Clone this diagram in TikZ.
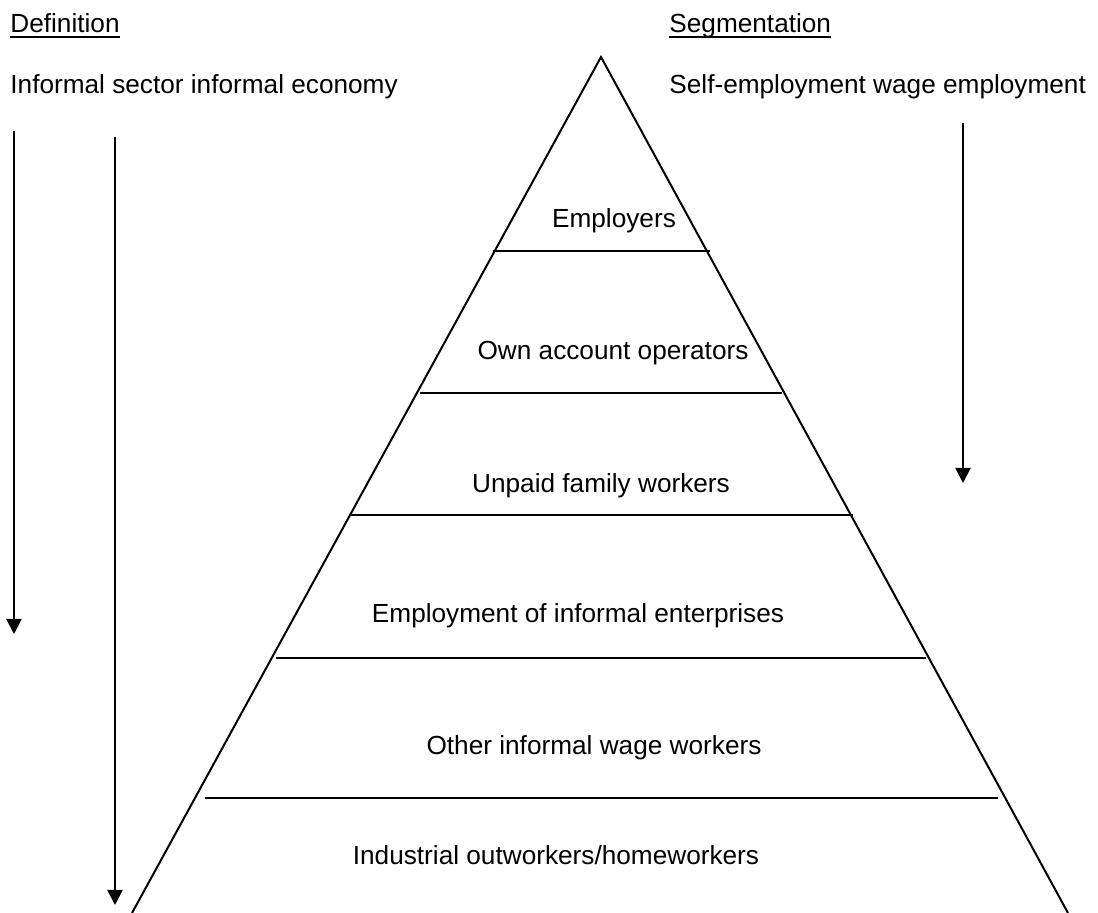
\documentclass[tikz,border=0pt]{standalone}
\usepackage{fontspec}
\setmainfont{Liberation Sans}
\usetikzlibrary{arrows.meta}
\tikzstyle{titre}=[inner sep=0pt,anchor=base west,font=\fontsize{13.1}{15.7}\selectfont]
\tikzstyle{niveau}=[inner sep=0pt,anchor=base,font=\fontsize{13.1}{15.7}\selectfont]
\tikzstyle{trait}=[line width=1pt]
\tikzstyle{souligne}=[line width=0.9pt]
\tikzstyle{fleche}=[-{Triangle[length=7.5pt,width=7.5pt]},line width=1pt]
\begin{document}
\begin{tikzpicture}[x=0.5pt,y=-0.5pt]
\useasboundingbox (0,0) rectangle (1098,913);
\node[titre] (def) at (10,33) {Definition};
\node[titre] (infsec) at (10,94) {Informal sector informal economy};
\node[titre] (seg) at (669,33) {Segmentation};
\node[titre] (selfemp) at (669,94) {Self-employment wage employment};
\coordinate (apex) at (601,57);
\coordinate (baseL) at (132,913);
\coordinate (baseR) at (1068,913);
\coordinate (l1a) at (493,251); \coordinate (l1b) at (710,251);
\coordinate (l2a) at (420,393); \coordinate (l2b) at (782,393);
\coordinate (l3a) at (349,515); \coordinate (l3b) at (853,515);
\coordinate (l4a) at (276,658); \coordinate (l4b) at (926,658);
\coordinate (l5a) at (205,798); \coordinate (l5b) at (998,798);
\node[niveau] (employers) at (614,228) {Employers};
\node[niveau] (ownacc) at (613,360) {Own account operators};
\node[niveau] (unpaid) at (601,493) {Unpaid family workers};
\node[niveau] (empinf) at (578,623) {Employment of informal enterprises};
\node[niveau] (otherwage) at (594,755) {Other informal wage workers};
\node[niveau] (outwork) at (556,865) {Industrial outworkers/homeworkers};
\coordinate (defTop) at (14,131);
\coordinate (defEnd) at (14,634);
\coordinate (ecoTop) at (115,137);
\coordinate (ecoEnd) at (115,905);
\coordinate (segTop) at (963,123);
\coordinate (segEnd) at (963,483);
%Drawing the pyramid
\draw[trait] (baseL) -- (apex) -- (baseR);
\draw[trait] (l1a) -- (l1b);
\draw[trait] (l2a) -- (l2b);
\draw[trait] (l3a) -- (l3b);
\draw[trait] (l4a) -- (l4b);
\draw[trait] (l5a) -- (l5b);
%Underlines and arrows
\draw[souligne] ([yshift=-2.2pt]def.base west) -- ([yshift=-2.2pt]def.base east);
\draw[souligne] ([yshift=-2.2pt]seg.base west) -- ([yshift=-2.2pt]seg.base east);
\draw[fleche] (defTop) -- (defEnd);
\draw[fleche] (ecoTop) -- (ecoEnd);
\draw[fleche] (segTop) -- (segEnd);
\end{tikzpicture}
\end{document}
